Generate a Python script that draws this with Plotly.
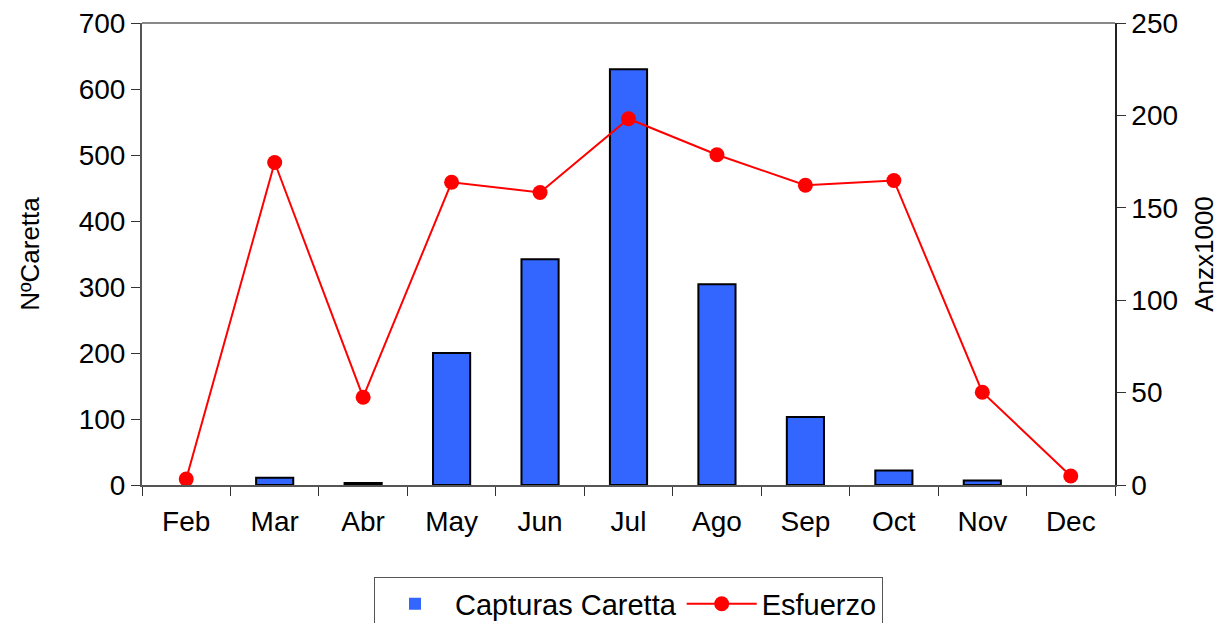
import plotly.graph_objects as go

months = ["Feb", "Mar", "Abr", "May", "Jun", "Jul", "Ago", "Sep", "Oct", "Nov", "Dec"]
capturas = [0, 11, 3, 200, 342, 630, 304, 103, 22, 7, 0]
esfuerzo = [3.2, 174.5, 47.5, 163.8, 158.3, 198.2, 178.7, 162.2, 164.8, 50.2, 4.9]

FONT = "Liberation Sans, Arial, sans-serif"
outline_w = [0 if v == 0 else 2 for v in capturas]

fig = go.Figure()
fig.add_trace(go.Bar(
    x=months, y=capturas, name="Capturas Caretta",
    marker=dict(color="#3366FF", line=dict(color="black", width=outline_w)),
    width=0.42, yaxis="y"))
fig.add_trace(go.Scatter(
    x=months, y=esfuerzo, name="Esfuerzo", mode="lines+markers",
    line=dict(color="#FF0000", width=2),
    marker=dict(color="#FF0000", size=15), yaxis="y2"))

fig.update_layout(
    width=1214, height=615,
    margin=dict(l=134, r=107, t=15, b=138, autoexpand=False),
    paper_bgcolor="white", plot_bgcolor="white",
    font=dict(family=FONT, size=28, color="black"),
    showlegend=True,
    legend=dict(orientation="h", x=0.5, xanchor="center", y=-0.2, yanchor="top",
                bordercolor="#555555", borderwidth=1, font=dict(size=29),
                itemwidth=70, traceorder="normal"),
    xaxis=dict(type="category", range=[-0.5, len(months) - 0.5],
               showline=True, linecolor="#555555", linewidth=2,
               ticks="outside", tickson="boundaries", ticklen=9, tickcolor="#333333",
               showgrid=False, tickfont=dict(size=28), ticklabelstandoff=10,
               automargin=False, ticklabeloverflow="allow"),
    yaxis=dict(range=[0, 700], dtick=100, showline=True, linecolor="#555555", linewidth=2,
               ticks="outside", ticklen=9, tickcolor="#333333", showgrid=False, zeroline=False,
               title=dict(text="NºCaretta", font=dict(size=26), standoff=32),
               tickfont=dict(size=28), automargin=False, ticklabeloverflow="allow"),
    yaxis2=dict(range=[0, 250], dtick=50, overlaying="y", side="right", showline=True,
                linecolor="#222222", linewidth=1.5, ticks="outside", ticklen=9,
                tickcolor="#333333", showgrid=False, zeroline=False,
                title=dict(text="Anzx1000", font=dict(size=26), standoff=18),
                tickfont=dict(size=28), automargin=False, ticklabeloverflow="allow"),
    shapes=[dict(type="line", xref="paper", yref="paper", x0=0, x1=1, y0=1, y1=1,
                 line=dict(color="#888888", width=2))],
)

fig.write_html("out.html")
